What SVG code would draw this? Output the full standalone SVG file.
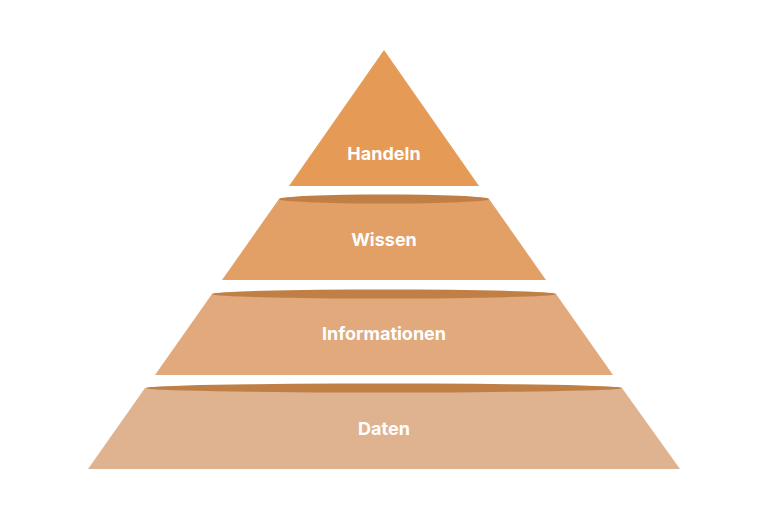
<svg xmlns="http://www.w3.org/2000/svg" width="768" height="520" viewBox="0 0 768 520">
<style>
.rim{fill:#C07F45}
.t{font-family:Inter,"Open Sans",sans-serif;font-weight:700;font-size:18px;fill:#fff;text-anchor:middle}
</style>
<rect width="768" height="520" fill="#fff"/>
<g id="handeln"><polygon points="384,50 479,186 289,186" fill="#E59A55"/><text class="t" x="384" y="160">Handeln</text></g>
<g id="wissen"><polygon points="279,199 489,199 546,280 222,280" fill="#E2A066"/><ellipse class="rim" cx="384" cy="199" rx="105" ry="4.5"/><text class="t" x="384" y="246">Wissen</text></g>
<g id="informationen"><polygon points="212,294 556,294 613,375 155,375" fill="#E1A97C"/><ellipse class="rim" cx="384" cy="294" rx="172" ry="4.5"/><text class="t" x="384" y="340">Informationen</text></g>
<g id="daten"><polygon points="145,388 622,388 680,469 88,469" fill="#DFB390"/><ellipse class="rim" cx="384" cy="388" rx="238" ry="4.5"/><text class="t" x="384" y="435">Daten</text></g>
<g id="connectors"/>
</svg>
